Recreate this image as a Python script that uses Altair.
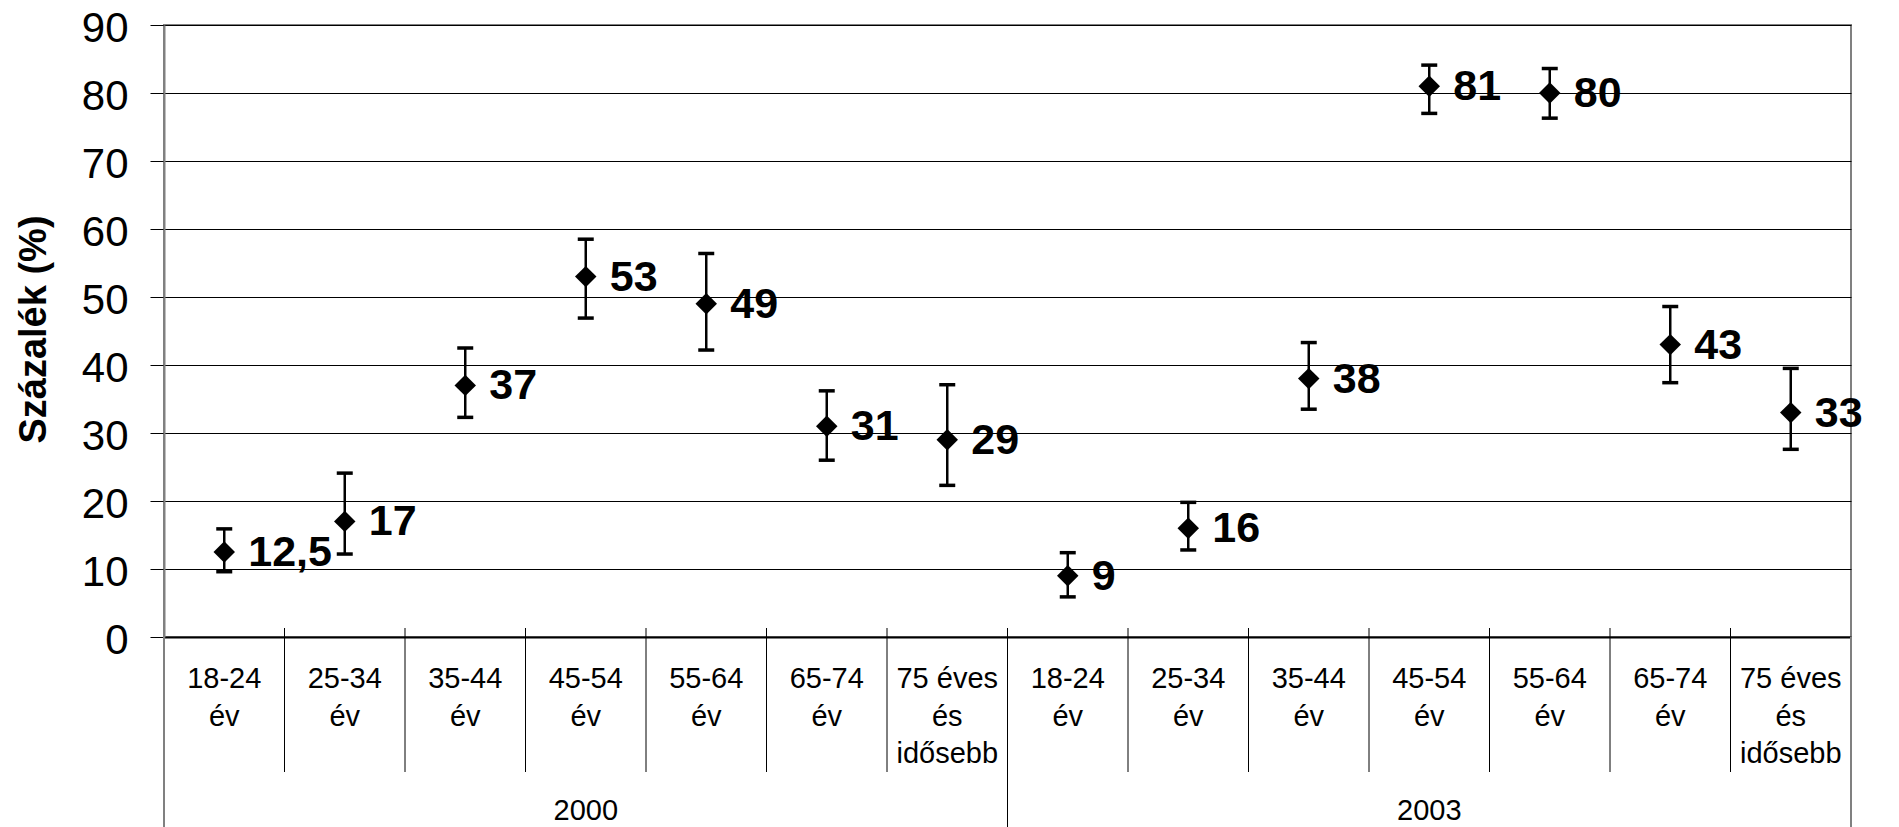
import altair as alt
import pandas as pd

# ---- data ----
years = ["2000"] * 7 + ["2003"] * 7
age_groups = ["18-24\név", "25-34\név", "35-44\név", "45-54\név",
              "55-64\név", "65-74\név", "75 éves\nés\nidősebb"]
categories = age_groups * 2
values = [12.5, 17, 37, 53, 49, 31, 29, 9, 16, 38, 81, 80, 43, 33]
upper = [15.9, 24.1, 42.5, 58.5, 56.4, 36.2, 37.1, 12.4, 19.8, 43.3, 84.1, 83.6, 48.6, 39.5]
lower = [9.6, 12.2, 32.3, 46.9, 42.2, 26.0, 22.3, 5.9, 12.8, 33.5, 77.0, 76.3, 37.4, 27.6]
value_labels = ["12,5", "17", "37", "53", "49", "31", "29",
                "9", "16", "38", "81", "80", "43", "33"]
y_ticks = [0, 10, 20, 30, 40, 50, 60, 70, 80, 90]
inner_bounds = [1, 2, 3, 4, 5, 6, 8, 9, 10, 11, 12, 13]
group_bounds = [7]
outer_bounds = [0, 14]

FONT = "Liberation Sans"

df = pd.DataFrame({
    "pos": [i + 0.5 for i in range(len(values))],
    "year": years,
    "cat": categories,
    "value": values,
    "upper": upper,
    "lower": lower,
    "label": value_labels,
})
df_inner = pd.DataFrame({"b": inner_bounds})
df_group = pd.DataFrame({"b": group_bounds})
df_outer = pd.DataFrame({"b": outer_bounds})

xscale = alt.Scale(domain=[0, 14], nice=False, zero=False)
yscale = alt.Scale(domain=[0, 90], nice=False)

x_enc = alt.X("pos:Q", scale=xscale,
              axis=alt.Axis(labels=False, ticks=False, grid=False, domainColor="black",
                            domainWidth=2, title=None))
y_axis = alt.Axis(values=y_ticks, grid=True, gridColor="black", gridWidth=1, gridOpacity=1,
                  tickColor="black", tickSize=14, tickWidth=1,
                  labelFont=FONT, labelFontSize=42, labelColor="black", labelPadding=22,
                  labelOffset=3,
                  domainColor="#808080", domainWidth=2,
                  title="Százalék (%)", titleFont=FONT, titleFontSize=38,
                  titleFontWeight="bold", titleColor="black",
                  titleX=-119, titleY=304, titleAngle=270, titleAlign="center",
                  titleBaseline="alphabetic")

base = alt.Chart(df)

stems = base.mark_rule(color="black", strokeWidth=2.5).encode(
    x=x_enc,
    y=alt.Y("lower:Q", scale=yscale, axis=y_axis),
    y2="upper:Q",
)
cap_hi = base.mark_tick(orient="horizontal", color="black", size=16, thickness=3.5, opacity=1).encode(
    x=alt.X("pos:Q", scale=xscale), y=alt.Y("upper:Q", scale=yscale))
cap_lo = base.mark_tick(orient="horizontal", color="black", size=16, thickness=3.5, opacity=1).encode(
    x=alt.X("pos:Q", scale=xscale), y=alt.Y("lower:Q", scale=yscale))
points = base.mark_point(shape="diamond", filled=True, size=460, color="black", opacity=1).encode(
    x=alt.X("pos:Q", scale=xscale), y=alt.Y("value:Q", scale=yscale))
labels = base.mark_text(align="left", baseline="middle", dx=24, dy=1, font=FONT, fontSize=43,
                        fontWeight="bold", color="black").encode(
    x=alt.X("pos:Q", scale=xscale), y=alt.Y("value:Q", scale=yscale), text="label:N")

cat_text = base.mark_text(align="center", baseline="alphabetic", lineBreak="\n",
                          lineHeight=37.5, font=FONT, fontSize=29, color="black").encode(
    x=alt.X("pos:Q", scale=xscale), y=alt.value(663), text="cat:N")

year_text = base.transform_aggregate(mid="mean(pos)", groupby=["year"]).mark_text(
    align="center", baseline="alphabetic", font=FONT, fontSize=29, color="black").encode(
    x=alt.X("mid:Q", scale=xscale), y=alt.value(795), text="year:N")

sep_inner = alt.Chart(df_inner).mark_rule(color="black", strokeWidth=1).encode(
    x=alt.X("b:Q", scale=xscale), y=alt.value(603), y2=alt.value(747))
sep_group = alt.Chart(df_group).mark_rule(color="black", strokeWidth=1).encode(
    x=alt.X("b:Q", scale=xscale), y=alt.value(603), y2=alt.value(830))
sep_outer = alt.Chart(df_outer).mark_rule(color="#808080", strokeWidth=2).encode(
    x=alt.X("b:Q", scale=xscale), y=alt.value(612), y2=alt.value(830))

chart = alt.layer(
    stems, cap_hi, cap_lo, points, labels, cat_text, year_text,
    sep_inner, sep_group, sep_outer,
).properties(
    width=1687, height=612,
    autosize=alt.AutoSizeParams(type="none"),
    padding={"left": 156, "top": 17, "right": 38, "bottom": 200},
).configure_view(stroke="#808080", strokeWidth=2)

chart.save("out.html", embed_options={"renderer": "svg", "actions": False})
